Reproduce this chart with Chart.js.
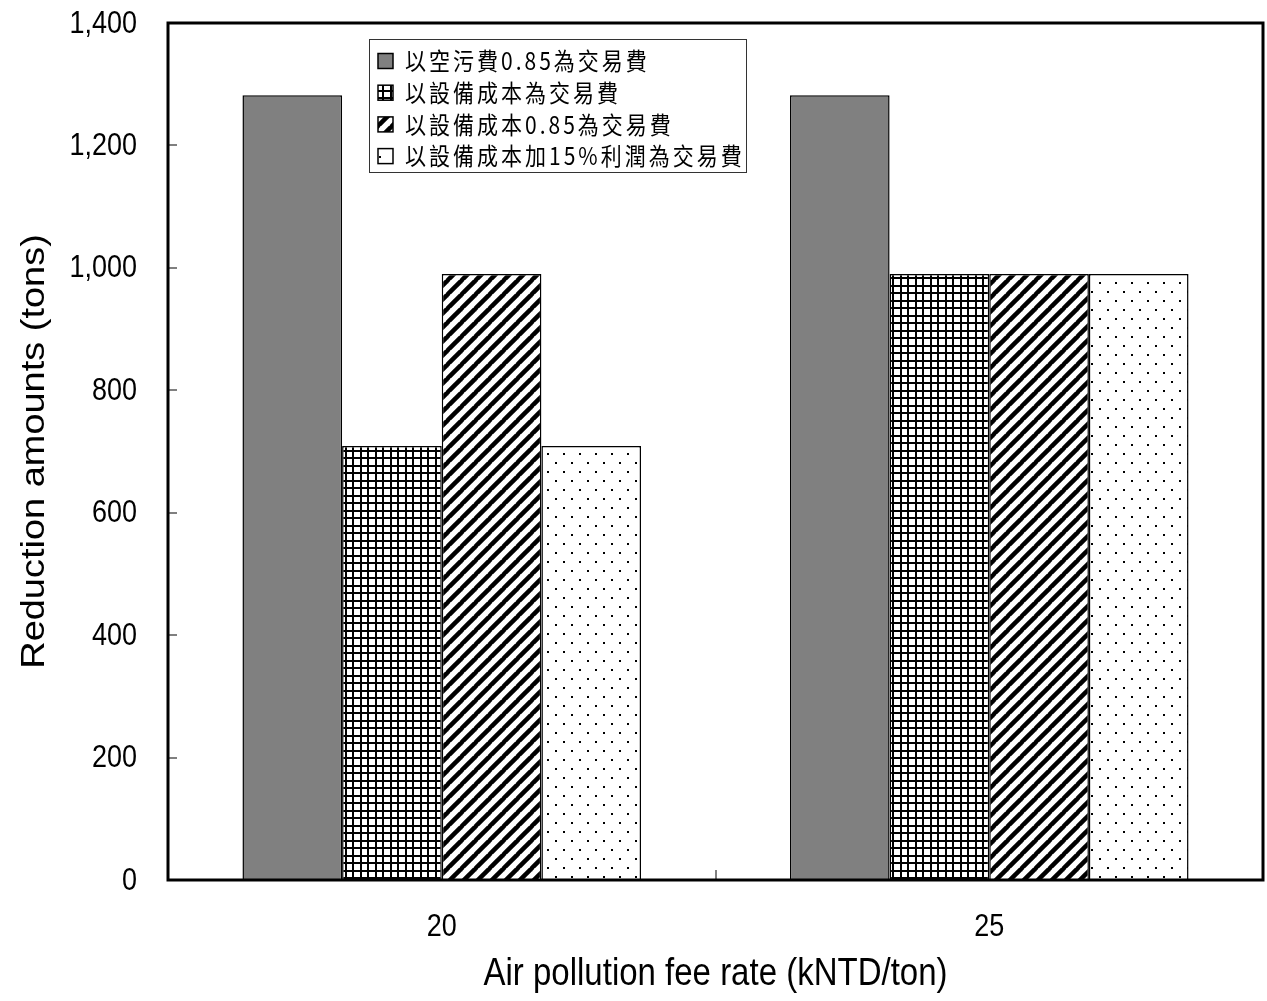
<!DOCTYPE html>
<html>
<head>
<meta charset="utf-8">
<script src="https://cdn.jsdelivr.net/npm/chart.js@4/dist/chart.umd.min.js"></script>
<style>
  html, body { margin: 0; padding: 0; background: #fff; }
  #wrap { width: 1267px; height: 1001px; position: relative; }
</style>
</head>
<body>
<div id="wrap"><canvas id="c"></canvas></div>
<script>
// Fee rate categories (kNTD/ton)
const categories = ['20', '25'];

// Trading-fee scenarios
const seriesNames = [
  '以空污費0.85為交易費',
  '以設備成本為交易費',
  '以設備成本0.85為交易費',
  '以設備成本加15%利潤為交易費'
];

// Reduction amounts (tons) per scenario
const feeAt085 = [1282, 1282];
const equipCost = [709, 990];
const equipCost085 = [990, 990];
const equipCostProfit = [709, 990];

// Value axis
const yMin = 0;
const yMax = 1400;
const yStep = 200;

const xTitle = 'Air pollution fee rate (kNTD/ton)';
const yTitle = 'Reduction amounts (tons)';

// ---- fill patterns ----
function tile(w, h, draw) {
  const c = document.createElement('canvas');
  c.width = w; c.height = h;
  const g = c.getContext('2d');
  g.fillStyle = '#fff';
  g.fillRect(0, 0, w, h);
  g.fillStyle = '#000';
  g.strokeStyle = '#000';
  draw(g);
  return c;
}

const ctx = document.getElementById('c').getContext('2d');

const gridPattern = ctx.createPattern(tile(15, 15, g => {
  g.fillRect(0, 0, 2, 15);
  g.fillRect(7, 0, 2, 15);
  g.fillRect(0, 0, 15, 2);
  g.fillRect(0, 7, 15, 2);
}), 'repeat');

const stripePattern = ctx.createPattern(tile(14, 14, g => {
  g.lineWidth = 4.5;
  for (const o of [-14, 0, 14]) {
    g.beginPath();
    g.moveTo(o - 1, 15);
    g.lineTo(o + 15, -1);
    g.stroke();
  }
}), 'repeat');

const dotPattern = ctx.createPattern(tile(16, 18, g => {
  g.fillRect(3, 3, 2, 2);
  g.fillRect(11, 12, 2, 2);
}), 'repeat');

const fills = ['#808080', gridPattern, stripePattern, dotPattern];
const seriesData = [feeAt085, equipCost, equipCost085, equipCostProfit];

// ---- text helper: slightly tall glyphs ----
const SY = 1.15;
function tallText(c, txt, x, y, font, align, baseline, rot) {
  c.save();
  c.translate(x, y);
  if (rot) { c.rotate(rot); c.scale(SY, 1); } else { c.scale(1, SY); }
  c.font = font;
  c.textAlign = align;
  c.textBaseline = baseline;
  c.fillStyle = '#000';
  c.fillText(txt, 0, 0);
  c.restore();
}

// Frame, inner tick marks, labels and legend
const decorations = {
  id: 'decorations',
  afterDraw(chart) {
    const c = chart.ctx;
    const a = chart.chartArea;
    const xs = chart.scales.x, ys = chart.scales.y;

    // inner y tick marks
    c.save();
    c.strokeStyle = '#808080';
    c.lineWidth = 2;
    ys.ticks.forEach(t => {
      if (t.value === yMin || t.value === yMax) return;
      const py = Math.round(ys.getPixelForValue(t.value));
      c.beginPath();
      c.moveTo(a.left, py);
      c.lineTo(a.left + 9, py);
      c.stroke();
    });
    // category divider tick
    for (let i = 0; i < categories.length - 1; i++) {
      const px = Math.round((xs.getPixelForValue(i) + xs.getPixelForValue(i + 1)) / 2);
      c.beginPath();
      c.moveTo(px, a.bottom);
      c.lineTo(px, a.bottom - 10);
      c.stroke();
    }
    c.restore();

    // frame
    c.save();
    c.strokeStyle = '#000';
    c.lineWidth = 3;
    c.strokeRect(a.left, a.top, a.right - a.left, a.bottom - a.top);
    c.restore();

    // tick labels
    const tickFont = '27px "Liberation Sans", Arial, sans-serif';
    ys.ticks.forEach(t => {
      tallText(c, t.value.toLocaleString('en-US'), a.left - 31, ys.getPixelForValue(t.value) + 1,
        tickFont, 'right', 'middle');
    });
    categories.forEach((lab, i) => {
      tallText(c, lab, xs.getPixelForValue(i), 927, tickFont, 'center', 'middle');
    });

    // axis titles
    const titleFont = '33px "Liberation Sans", Arial, sans-serif';
    tallText(c, xTitle, (a.left + a.right) / 2, 975, titleFont, 'center', 'middle');
    tallText(c, yTitle, 35, (a.top + a.bottom) / 2, titleFont, 'center', 'middle', -Math.PI / 2);

    // legend
    const lx = 369, ly = 39, lw = 377, lh = 133;
    c.save();
    c.fillStyle = '#fff';
    c.fillRect(lx, ly, lw, lh);
    c.strokeStyle = '#333';
    c.lineWidth = 1;
    c.strokeRect(lx + 0.5, ly + 0.5, lw, lh);
    chart.data.datasets.forEach((ds, i) => {
      const cy = 61 + i * 31.7;
      c.fillStyle = ds.backgroundColor;
      c.fillRect(378, cy - 7.5, 15, 15);
      c.strokeStyle = '#000';
      c.lineWidth = 1.5;
      c.strokeRect(378, cy - 7.5, 15, 15);
      c.save();
      c.letterSpacing = '3px';
      tallText(c, ds.label, 405, cy, '21px "Noto Sans CJK TC", sans-serif', 'left', 'middle');
      c.restore();
    });
    c.restore();
  }
};

new Chart(ctx, {
  type: 'bar',
  data: {
    labels: categories,
    datasets: seriesNames.map((name, i) => ({
      label: name,
      data: seriesData[i],
      backgroundColor: fills[i],
      borderColor: '#000',
      borderWidth: 1.5
    }))
  },
  options: {
    responsive: true,
    maintainAspectRatio: false,
    animation: false,
    layout: { padding: { top: 23, right: 4, left: 0, bottom: 0 } },
    datasets: { bar: { categoryPercentage: 0.728, barPercentage: 1 } },
    plugins: { legend: { display: false }, tooltip: { enabled: false } },
    scales: {
      x: {
        grid: { display: false },
        border: { display: false },
        ticks: { display: false },
        afterFit(s) { s.height = 121; }
      },
      y: {
        min: yMin,
        max: yMax,
        ticks: { stepSize: yStep, display: false },
        grid: { display: false },
        border: { display: false },
        afterFit(s) { s.width = 168; }
      }
    }
  },
  plugins: [decorations]
});
</script>
</body>
</html>
